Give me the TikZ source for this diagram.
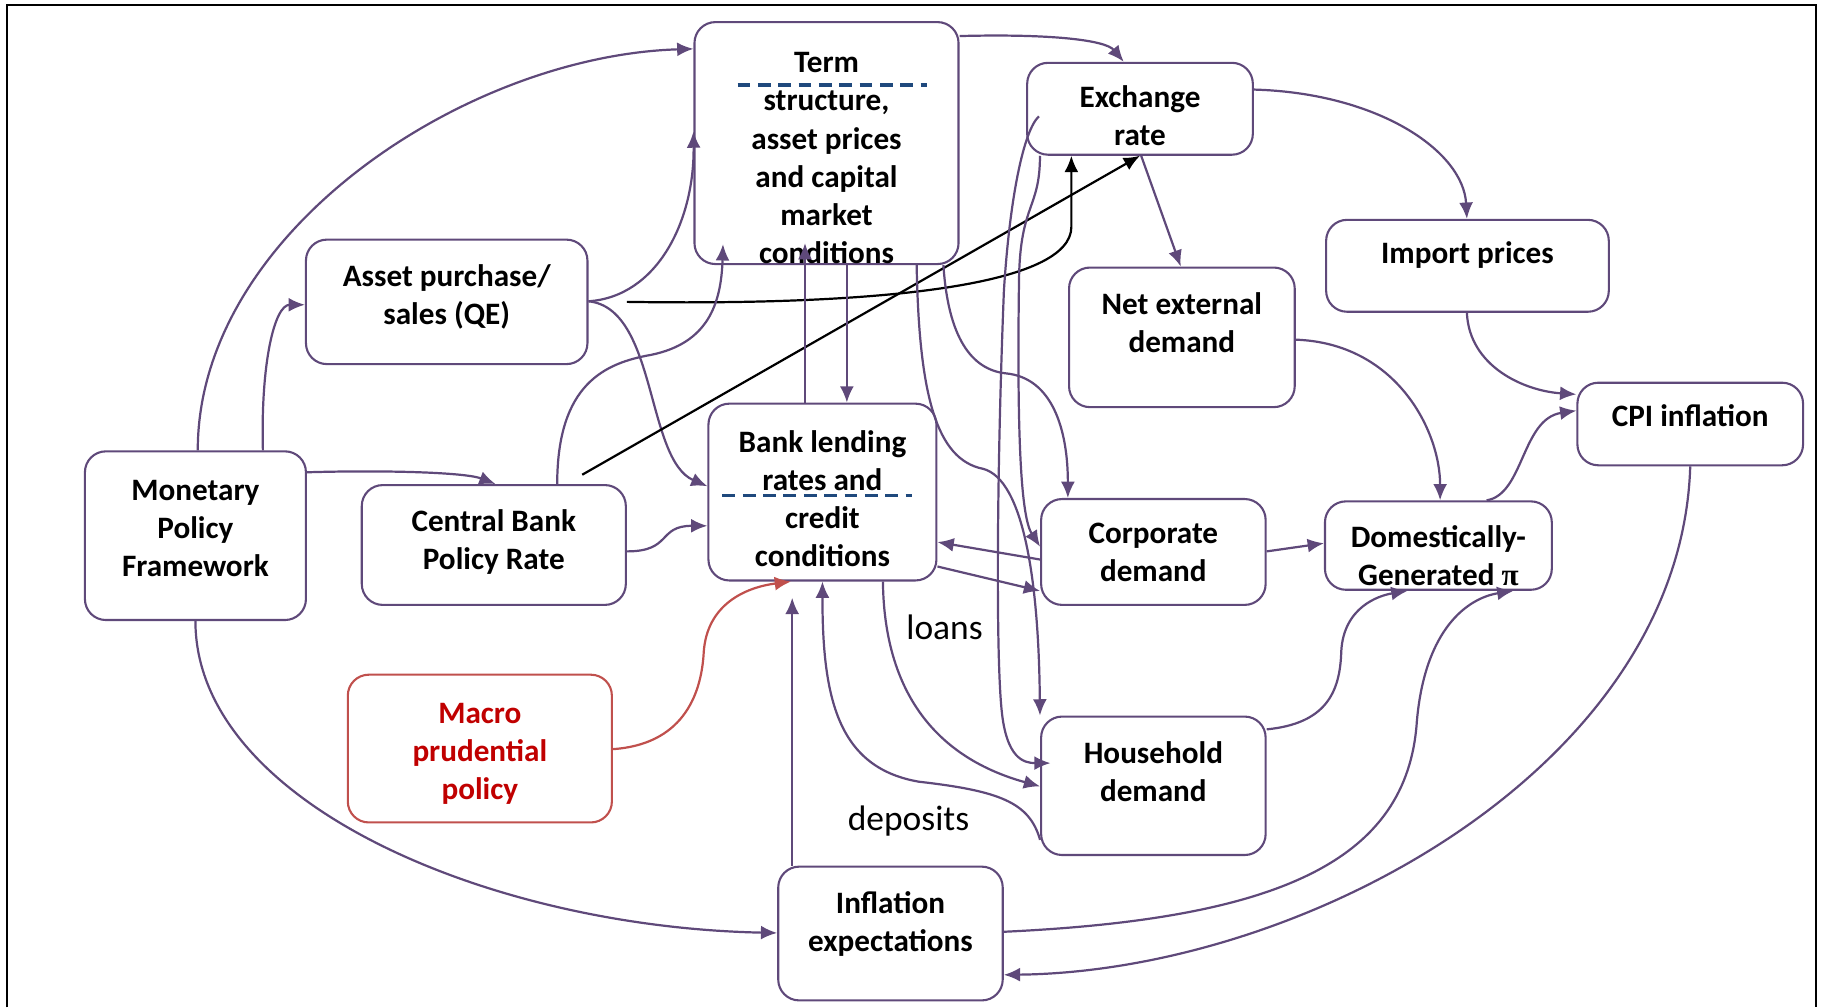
\documentclass[tikz,border=0pt]{standalone}
\usepackage{amsmath}
\usepackage{fontspec}
\setmainfont{Carlito}
\newfontfamily\pifont{Liberation Serif}
\usepackage{tikz}
\usetikzlibrary{arrows.meta, calc}

\definecolor{linkpurple}{HTML}{5F497A}
\definecolor{sepblue}{HTML}{1F497D}
\definecolor{macrored}{HTML}{C0504D}
\definecolor{macrotext}{HTML}{C00000}

\tikzset{
  box/.style={draw=linkpurple, line width=1.8pt, rounded corners=18pt, inner sep=0pt},
  txt/.style={align=center, font=\fontsize{26.8}{32.8}\selectfont\bfseries},
  note/.style={font=\fontsize{30.5}{36}\selectfont},
  flow/.style={-{Latex[length=14pt,width=12pt]}, color=linkpurple, line width=1.9pt},
  link/.style={-{Latex[length=14pt,width=12pt]}, color=black, line width=1.9pt},
  divider/.style={draw=sepblue, line width=3.2pt, dash pattern=on 11pt off 6.5pt}
}

\begin{document}
\begin{tikzpicture}[x=1pt, y=-1pt]
  \useasboundingbox (0,0) rectangle (1568,866);
  \draw[line width=1.6pt] (6,866) -- (6,4.5) -- (1561,4.5) -- (1561,866);

  % boxes
  \node[box, minimum width=227pt, minimum height=208pt] (term) at (710.5,123) {};
  \node[box, minimum width=194pt, minimum height=79pt]  (exch) at (980,93.5) {};
  \node[box, minimum width=243pt, minimum height=79pt]  (imp)  at (1261.5,228.5) {};
  \node[box, minimum width=194pt, minimum height=120pt] (ned)  at (1016,290) {};
  \node[box, minimum width=194pt, minimum height=71pt]  (cpi)  at (1453,364.5) {};
  \node[box, minimum width=242pt, minimum height=107pt] (apq)  at (384,259.5) {};
  \node[box, minimum width=190pt, minimum height=145pt] (mpf)  at (168,460.5) {};
  \node[box, minimum width=227pt, minimum height=103pt] (cbr)  at (424.5,468.5) {};
  \node[box, minimum width=196pt, minimum height=152pt] (blr)  at (707,423) {};
  \node[box, minimum width=193pt, minimum height=91pt]  (corp) at (991.5,474.5) {};
  \node[box, minimum width=195pt, minimum height=76pt]  (dom)  at (1236.5,469) {};
  \node[box, draw=macrored, minimum width=227pt, minimum height=127pt] (mpp) at (412.5,643.5) {};
  \node[box, minimum width=193pt, minimum height=119pt] (hh)   at (991.5,675.5) {};
  \node[box, minimum width=193pt, minimum height=115pt] (inf)  at (765.5,802.5) {};

  % box texts
  \node[txt] (term-t) at ([yshift=-13pt]term) {Term\\structure,\\asset prices\\and capital\\market\\conditions};
  \node[txt] (exch-t) at ([yshift=-6pt]exch) {Exchange\\rate};
  \node[txt] (imp-t)  at ([yshift=9pt]imp) {Import prices};
  \node[txt] (ned-t)  at ([yshift=12.5pt]ned) {Net external\\demand};
  \node[txt] (cpi-t)  at ([yshift=7pt]cpi) {CPI inflation};
  \node[txt] (apq-t)  at ([yshift=4.5pt]apq) {Asset purchase/\\sales (QE)};
  \node[txt] (mpf-t)  at ([yshift=6pt]mpf) {Monetary\\Policy\\Framework};
  \node[txt] (cbr-t)  at ([yshift=2.5pt]cbr) {Central Bank\\Policy Rate};
  \node[txt] (blr-t)  at ([yshift=-5.5pt]blr) {Bank lending\\rates and\\credit\\conditions};
  \node[txt] (corp-t) at (corp) {Corporate\\demand};
  \node[txt] (dom-t)  at ([yshift=-8.5pt]dom) {Domestically-\\Generated {\pifont π}};
  \node[txt, text=macrotext] (mpp-t) at ([yshift=-4.5pt]mpp) {Macro\\prudential\\policy};
  \node[txt] (hh-t)   at ([yshift=12pt]hh) {Household\\demand};
  \node[txt] (inf-t)  at ([yshift=8pt]inf) {Inflation\\expectations};
  \node[note] (loans) at (812,539) {loans};
  \node[note] (deposits) at (781,706) {deposits};

  % dividers
  \draw[divider] (634,73) -- (797,73);
  \draw[divider] (621,426) -- (784,426);

  % policy framework
  \draw[flow] (mpf.north -| 170,0) .. controls (170,200) and (400,48) .. (term.west |- 0,42);
  \draw[flow] (mpf.north -| 226,0) .. controls (224,312) and (236,262) .. (apq.west |- 0,262);
  \draw[flow] (mpf.east |- 0,406) .. controls (330,404) and (400,406) .. (cbr.north -| 426,0);
  \draw[flow] (mpf.south) .. controls (168,690) and (420,797) .. (inf.west |- 0,802);

  % asset purchases and policy rate
  \draw[flow] (apq.east |- 0,259) .. controls (565,255) and (597,190) .. (term.west |- 0,113);
  \draw[flow] (apq.east |- 0,259) .. controls (565,265) and (555,395) .. (blr.west |- 0,418);
  \draw[link] ([xshift=33pt]apq.east) .. controls (760,263) and (921,245) .. (921,195) -- (exch.south -| 921,0);
  \draw[flow, shorten >=-18pt] (cbr.north -| 479,0) .. controls (479,330) and (520,312) .. (560,305)
    .. controls (608,295) and (620,262) .. (term.south -| 621,0);
  \draw[flow] (cbr.east |- 0,474) .. controls (578,474) and (565,452) .. (blr.west |- 0,452);
  \draw[link] ([xshift=76pt,yshift=8pt]cbr.north) -- (exch.south -| 980,0);

  % term structure
  \draw[flow, shorten >=-19pt] (blr.north -| 692,0) -- (term.south -| 692,0);
  \draw[flow] (term.south -| 728,0) -- (blr.north -| 728,0);
  \draw[flow] (term.east |- 0,31) .. controls (900,29) and (950,34) .. (exch.north -| 966,0);
  \draw[flow] (term.south -| 811,0) .. controls (815,290) and (835,318) .. (865,321)
    .. controls (905,325) and (918,370) .. (corp.north -| 918,0);
  \draw[flow] (term.south -| 788,0) .. controls (790,340) and (805,395) .. (845,403)
    .. controls (880,412) and (893,500) .. (hh.north -| 894,0);

  % exchange rate
  \draw[flow] (exch.east |- 0,77) .. controls (1185,80) and (1258,130) .. (imp.north -| 1261,0);
  \draw[flow] (exch.south -| 981,0) -- (ned.north -| 1015,0);
  \draw[flow] ($(exch.west |- 0,100)+(11,0)$) .. controls (880,112) and (868,170) .. (863,250)
    .. controls (857,400) and (856,560) .. (861,610) .. controls (865,652) and (880,656) .. ($(hh.west |- 0,656)+(9,0)$);
  \draw[flow] (exch.south -| 894,0) .. controls (894,180) and (877,175) .. (876,240)
    .. controls (874,380) and (878,445) .. (corp.west |- 0,470);

  % bank lending, demand
  \draw[flow] (corp.west |- 0,481) -- (blr.east |- 0,466);
  \draw[flow] (blr.east |- 0,487) -- (corp.west |- 0,508);
  \draw[flow] (corp.east |- 0,474) -- (dom.west |- 0,467);
  \draw[flow] (blr.south -| 759,0) .. controls (760,590) and (800,650) .. (hh.west |- 0,676);
  \draw[flow] (hh.west |- 0,722) .. controls (885,690) and (860,680) .. (790,672)
    .. controls (720,660) and (707,600) .. (blr.south -| 707,0);
  \draw[flow, shorten >=14pt] (inf.north -| 681,0) -- (blr.south -| 681,0);
  \draw[flow, color=macrored] (mpp.east |- 0,644) .. controls (585,640) and (603,600) .. (605,560)
    .. controls (608,520) and (640,505) .. (blr.south -| 680,0);

  % prices
  \draw[flow] (imp.south -| 1261,0) .. controls (1263,315) and (1310,336) .. (cpi.west |- 0,339);
  \draw[flow] (ned.east |- 0,292) .. controls (1200,295) and (1238,370) .. (dom.north -| 1238,0);
  \draw[flow] (dom.north -| 1278,0) .. controls (1310,425) and (1308,360) .. (cpi.west |- 0,353);
  \draw[flow] (hh.east |- 0,627) .. controls (1140,622) and (1152,595) .. (1153,560)
    .. controls (1155,522) and (1185,512) .. (dom.south -| 1210,0);
  \draw[flow] (inf.east |- 0,801) .. controls (1100,790) and (1210,740) .. (1218,620)
    .. controls (1225,540) and (1262,514) .. (dom.south -| 1301,0);
  \draw[flow] (cpi.south) .. controls (1445,660) and (1120,835) .. (inf.east |- 0,838);
\end{tikzpicture}
\end{document}
